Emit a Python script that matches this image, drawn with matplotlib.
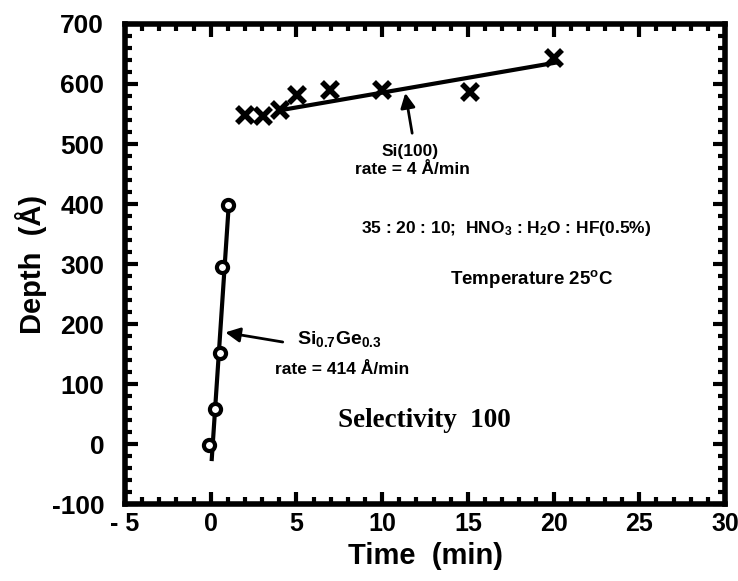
import numpy as np
import matplotlib
matplotlib.use("Agg")
from matplotlib import pyplot as plt
from matplotlib.ticker import MultipleLocator

# Si(100) etch depth (crosses)
si_time = [2.0, 3.05, 4.05, 5.05, 6.95, 10.0, 15.1, 20.0]
si_depth = [548, 546, 557, 582, 590, 590, 586, 643]
si_fit_time = [4.0, 20.2]
si_fit_depth = [556, 636]

# Si0.7Ge0.3 etch depth (circles)
sige_time = [-0.1, 0.25, 0.55, 0.65, 1.02]
sige_depth = [-2, 58, 152, 295, 398]
sige_fit_time = [0.06, 1.06]
sige_fit_depth = [-25, 402]

xticks = [-5, 0, 5, 10, 15, 20, 25, 30]
xticklabels = ['- 5', '0', '5', '10', '15', '20', '25', '30']
yticks = [-100, 0, 100, 200, 300, 400, 500, 600, 700]
yticklabels = ['-100', '0', '100', '200', '300', '400', '500', '600', '700']

plt.rcParams['font.family'] = ['Liberation Sans', 'DejaVu Sans']
plt.rcParams['mathtext.fontset'] = 'custom'
plt.rcParams['mathtext.rm'] = 'Liberation Sans:bold'
plt.rcParams['mathtext.bf'] = 'Liberation Sans:bold'
plt.rcParams['mathtext.it'] = 'Liberation Sans:bold'

fig = plt.figure(figsize=(7.38, 5.81), dpi=100)
ax = fig.add_axes([0.1694, 0.1325, 0.8130, 0.8262])

# fit lines first, markers on top
ax.plot(si_fit_time, si_fit_depth, color='black', lw=3, zorder=2)
ax.plot(sige_fit_time, sige_fit_depth, color='black', lw=3, zorder=2)
ax.plot(si_time, si_depth, ls='none', marker='x', ms=11, mew=4, color='black', zorder=3)
ax.plot(sige_time, sige_depth, ls='none', marker='o', ms=8, mew=3,
        mfc='white', mec='black', zorder=3)

ax.set_xlim(-5, 30)
ax.set_ylim(-100, 700)
ax.set_xticks(xticks)
ax.set_xticklabels(xticklabels)
ax.set_yticks(yticks)
ax.set_yticklabels(yticklabels)
ax.xaxis.set_minor_locator(MultipleLocator(1))
ax.yaxis.set_minor_locator(MultipleLocator(20))
ax.tick_params(which='both', direction='in', top=True, right=True, width=3, color='black')
ax.tick_params(which='major', length=9)
ax.tick_params(which='minor', length=5)
ax.tick_params(axis='x', which='major', pad=6, labelsize=18)
ax.tick_params(axis='y', which='major', pad=15, labelsize=19)
for lab in ax.get_xticklabels() + ax.get_yticklabels():
    lab.set_fontweight('bold')
for sp in ax.spines.values():
    sp.set_linewidth(4)

ax.set_xlabel('Time  (min)', fontsize=21, fontweight='bold', labelpad=4)
ax.set_ylabel('Depth  (Å)', fontsize=21, fontweight='bold', labelpad=3)

txt = dict(fontsize=12.5, fontweight='bold', ha='center', va='center')
ax.annotate('', xy=(11.35, 585), xytext=(11.75, 518),
            arrowprops=dict(arrowstyle='-|>', color='black', lw=2,
                            mutation_scale=22, shrinkA=0, shrinkB=0))
ax.text(11.65, 487, 'Si(100)', **txt)
ax.text(11.75, 457, 'rate = 4 Å/min', **txt)

ax.annotate('', xy=(0.85, 186), xytext=(4.2, 170),
            arrowprops=dict(arrowstyle='-|>', color='black', lw=2,
                            mutation_scale=22, shrinkA=0, shrinkB=0))
ax.text(7.5, 175, r'Si$_{0.7}$Ge$_{0.3}$', fontsize=14, fontweight='bold',
        ha='center', va='center')
ax.text(7.67, 125, 'rate = 414 Å/min', **txt)

ax.text(17.25, 360, r'35 : 20 : 10;  HNO$_3$ : H$_2$O : HF(0.5%)', **txt)
ax.text(18.7, 275, r'Temperature 25$^{\mathrm{o}}$C', fontsize=13.5,
        fontweight='bold', ha='center', va='center')

ax.text(12.45, 40, 'Selectivity  100', fontsize=19.5, fontweight='bold',
        family=['Liberation Serif', 'DejaVu Serif'], ha='center', va='center')

fig.savefig('out.png', dpi=100)
